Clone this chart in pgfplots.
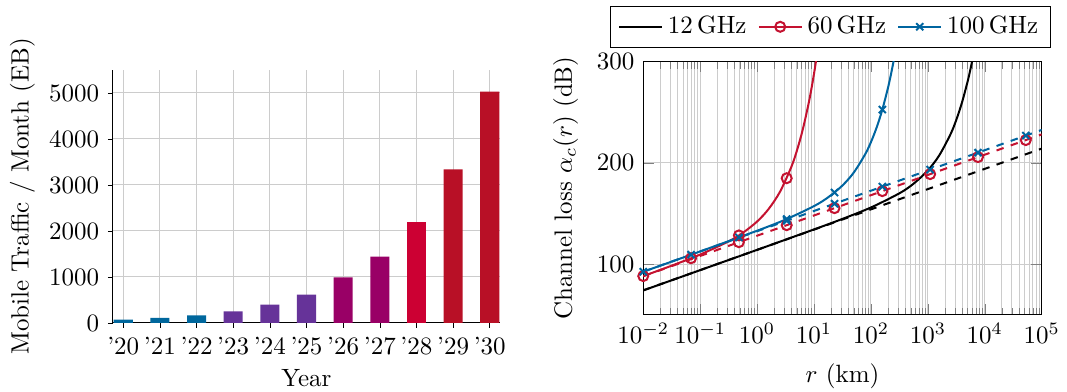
\documentclass[border=0pt]{standalone}
\usepackage{pgfplots}
\pgfplotsset{compat=1.18}
\definecolor{cA}{RGB}{0,103,157}
\definecolor{cP}{RGB}{102,51,153}
\definecolor{cM}{RGB}{153,0,102}
\definecolor{cC}{RGB}{204,0,51}
\definecolor{cD}{RGB}{184,16,38}
\definecolor{cR}{RGB}{196,18,48}
\definecolor{cB}{RGB}{0,101,160}
\begin{document}
\begin{tikzpicture}
\path[use as bounding box] (-45.2pt,-27.6pt) rectangle (381.6pt,129.2pt);
\begin{axis}[
  at={(0pt,0pt)}, anchor=south west,
  scale only axis, width=154.8pt, height=101.2pt,
  xmin=-0.28, xmax=10.28, ymin=0, ymax=5500,
  axis x line*=bottom, axis y line*=left, axis line style={-},
  xtick={0,1,2,3,4,5,6,7,8,9,10},
  xticklabels={'20,'21,'22,'23,'24,'25,'26,'27,'28,'29,'30},
  ytick={0,1000,2000,3000,4000,5000},
  scaled y ticks=false, /pgf/number format/1000 sep={},
  grid=major, grid style={gray!40, line width=0.4pt},
  tick align=outside, major tick length=2pt, tick style={black},
  xlabel={Year}, ylabel={Mobile Traffic / Month (EB)},
  every axis x label/.style={at={(axis description cs:0.5,-0.217)}, anchor=center},
  every axis y label/.style={at={(axis description cs:-0.234,0.5)}, anchor=center, rotate=90},
]
\addplot[ybar, bar width=0.52, bar shift=0pt, fill=cA, draw=none] coordinates {(0,72) (1,112) (2,167)};
\addplot[ybar, bar width=0.52, bar shift=0pt, fill=cP, draw=none] coordinates {(3,254) (4,399) (5,616)};
\addplot[ybar, bar width=0.52, bar shift=0pt, fill=cM, draw=none] coordinates {(6,993) (7,1442)};
\addplot[ybar, bar width=0.52, bar shift=0pt, fill=cC, draw=none] coordinates {(8,2203)};
\addplot[ybar, bar width=0.52, bar shift=0pt, fill=cD, draw=none] coordinates {(9,3341) (10,5029)};
\end{axis}
\begin{axis}[
  at={(212.1pt,3.3pt)}, anchor=south west,
  scale only axis, width=159.4pt, height=101.3pt,
  xmode=log, xmin=1e-2, xmax=1e5, ymin=50, ymax=300,
  ytick={100,200,300},
  xtick={1e-2,1e-1,1,10,100,1000,1e4,1e5},
  xmajorgrids, xminorgrids, ymajorgrids,
  grid style={gray!40}, minor grid style={gray!40},
  xlabel={$r$ (km)}, ylabel={Channel loss $\alpha_c(r)$ (dB)},
  every axis x label/.style={at={(axis description cs:0.5,-0.2436)}, anchor=center},
  every axis y label/.style={at={(axis description cs:-0.195,0.5)}, anchor=center, rotate=90},
  legend columns=3,
  legend style={at={(axis description cs:0.4706,1.137)}, anchor=center, draw=black,
    /tikz/every even column/.append style={column sep=2.5pt}},
]
\addlegendimage{black, thick}
\addlegendentry{12\,GHz}
\addlegendimage{cR, thick, mark=o, mark size=2pt}
\addlegendentry{60\,GHz}
\addlegendimage{cB, thick, mark=x, mark size=2pt}
\addlegendentry{100\,GHz}
% 12 GHz
\addplot[black, thick, smooth, forget plot] coordinates {(0.01,74.03) (0.1,94.03) (1,114.05) (10,134.22) (31.623,144.62) (100,155.88) (316.23,169.88) (562.34,179.43) (1000,192.53) (1584.9,207.35) (2511.9,228.50) (3162.3,242.53) (3981.1,259.68) (5011.9,280.75) (5623.4,293.06) (6309.6,306.76) (7079.5,322.0)};
\addplot[black, thick, dashed, forget plot] coordinates {(0.01,74.03) (1e5,214.03)};
% 60 GHz
\addplot[cR, thick, smooth, forget plot] coordinates {(0.01,88.15) (0.031623,98.45) (0.1,109.41) (0.31623,122.44) (0.56234,130.88) (1,142.01) (1.5849,154.20) (2.5119,171.18) (3.9811,195.74) (5.0119,212.18) (6.3096,232.34) (7.9433,257.22) (8.9125,271.79) (10,288.01) (11.220,306.09) (12.589,326.26)};
\addplot[cR, thick, only marks, mark=o, mark size=2pt, forget plot] coordinates {(0.01,88.15) (0.069183,105.78) (0.47863,128.31) (3.3113,184.77)};
\addplot[cR, thick, dashed, forget plot] coordinates {(0.01,88.01) (1e5,228.01)};
\addplot[cR, thick, only marks, mark=o, mark size=2pt, forget plot] coordinates {(0.47863,121.61) (3.3113,138.41) (22.9087,155.21) (158.489,172.01) (1096.48,188.81) (7585.78,205.61) (52480.7,222.41)};
% 100 GHz
\addplot[cB, thick, smooth, forget plot] coordinates {(0.01,92.45) (0.1,112.50) (1,132.93) (3.1623,143.97) (10,157.25) (17.783,165.99) (31.623,177.63) (50.119,190.51) (79.433,208.58) (100,220.45) (125.89,234.88) (158.49,252.53) (199.53,274.22) (223.87,286.91) (251.19,301.02) (281.84,316.73)};
\addplot[cB, thick, only marks, mark=x, mark size=2pt, forget plot] coordinates {(0.01,92.45) (0.069183,109.28) (0.47863,126.28) (3.3113,144.44) (22.9087,170.65) (158.489,252.53)};
\addplot[cB, thick, dashed, forget plot] coordinates {(0.01,92.45) (1e5,232.45)};
\addplot[cB, thick, only marks, mark=x, mark size=2pt, forget plot] coordinates {(3.3113,142.85) (22.9087,159.65) (158.489,176.45) (1096.48,193.25) (7585.78,210.05) (52480.7,226.85)};
\end{axis}
\end{tikzpicture}
\end{document}
